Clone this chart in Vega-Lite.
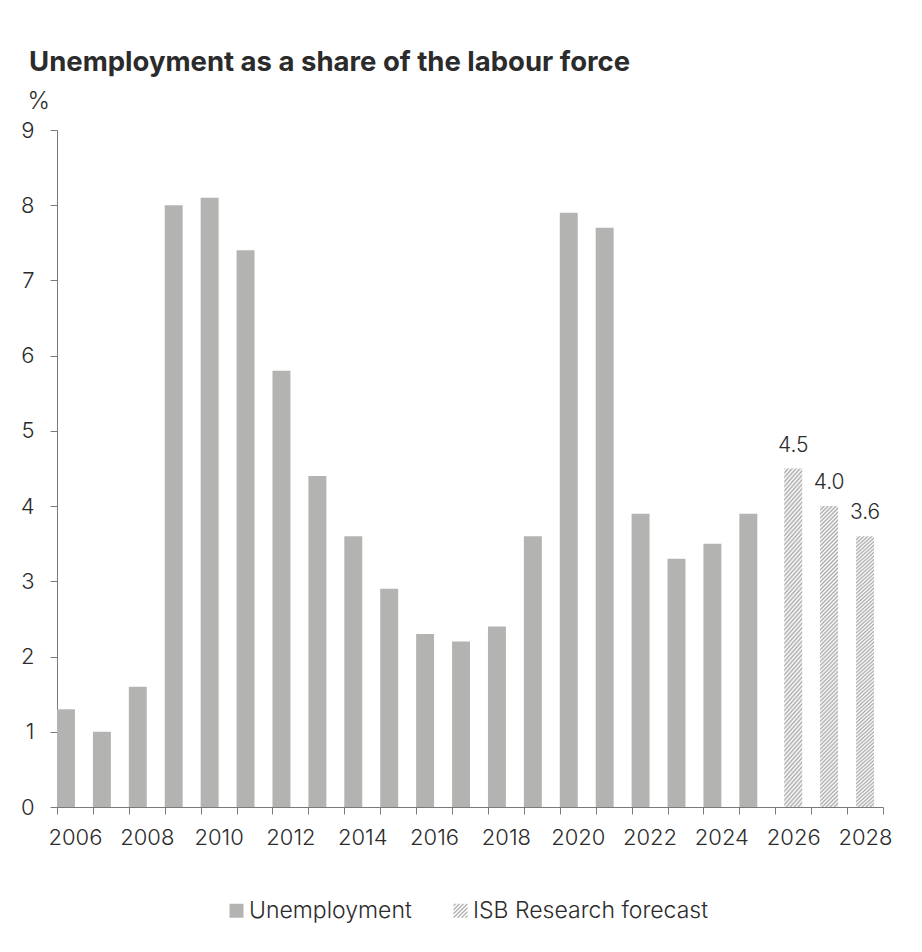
{
  "$schema": "https://vega.github.io/schema/vega-lite/v6.json",
  "width": 826,
  "height": 677,
  "autosize": {"type": "none"},
  "padding": {"left": 57, "top": 130, "right": 39, "bottom": 145},
  "background": "#ffffff",
  "config": {
    "font": "Inter",
    "view": {"stroke": null},
    "axis": {"labelColor": "#2b2b2b", "titleColor": "#2b2b2b", "domainColor": "#7a7a7a", "tickColor": "#7a7a7a", "labelFontSize": 22, "labelFontWeight": 300, "grid": false}
  },
  "title": {
    "text": "Unemployment as a share of the labour force",
    "anchor": "start",
    "frame": "group",
    "dx": -28,
    "fontSize": 27.5,
    "fontWeight": "bold",
    "color": "#2b2b2b",
    "baseline": "alphabetic",
    "offset": -9
  },
  "data": {
    "values": [
      {"year": 2006, "value": 1.3, "series": "Unemployment"},
      {"year": 2007, "value": 1.0, "series": "Unemployment"},
      {"year": 2008, "value": 1.6, "series": "Unemployment"},
      {"year": 2009, "value": 8.0, "series": "Unemployment"},
      {"year": 2010, "value": 8.1, "series": "Unemployment"},
      {"year": 2011, "value": 7.4, "series": "Unemployment"},
      {"year": 2012, "value": 5.8, "series": "Unemployment"},
      {"year": 2013, "value": 4.4, "series": "Unemployment"},
      {"year": 2014, "value": 3.6, "series": "Unemployment"},
      {"year": 2015, "value": 2.9, "series": "Unemployment"},
      {"year": 2016, "value": 2.3, "series": "Unemployment"},
      {"year": 2017, "value": 2.2, "series": "Unemployment"},
      {"year": 2018, "value": 2.4, "series": "Unemployment"},
      {"year": 2019, "value": 3.6, "series": "Unemployment"},
      {"year": 2020, "value": 7.9, "series": "Unemployment"},
      {"year": 2021, "value": 7.7, "series": "Unemployment"},
      {"year": 2022, "value": 3.9, "series": "Unemployment"},
      {"year": 2023, "value": 3.3, "series": "Unemployment"},
      {"year": 2024, "value": 3.5, "series": "Unemployment"},
      {"year": 2025, "value": 3.9, "series": "Unemployment"},
      {"year": 2026, "value": 4.5, "series": "ISB Research forecast"},
      {"year": 2027, "value": 4.0, "series": "ISB Research forecast"},
      {"year": 2028, "value": 3.6, "series": "ISB Research forecast"}
    ]
  },
  "encoding": {
    "x": {
      "field": "year",
      "type": "ordinal",
      "scale": {"type": "band", "paddingInner": 0, "paddingOuter": 0},
      "axis": {
        "title": null,
        "labelAngle": 0,
        "tickBand": "extent",
        "tickSize": 7,
        "labelPadding": 13,
        "labelOverlap": false,
        "labelExpr": "datum.value % 2 == 0 ? datum.label : ''"
      }
    },
    "y": {
      "field": "value",
      "type": "quantitative",
      "scale": {"domain": [0, 9], "nice": false},
      "axis": {
        "values": [0, 1, 2, 3, 4, 5, 6, 7, 8, 9],
        "tickSize": 7,
        "labelPadding": 16,
        "title": "%",
        "titleAngle": 0,
        "titleAlign": "left",
        "titleBaseline": "alphabetic",
        "titleX": -30,
        "titleY": -22,
        "titleFontSize": 24,
        "titleFontWeight": 300
      }
    }
  },
  "layer": [
    {
      "transform": [{"filter": "datum.series === 'Unemployment'"}],
      "mark": {"type": "bar"},
      "encoding": {
        "xOffset": {
          "field": "series",
          "type": "nominal",
          "scale": {"domain": ["Unemployment", "ISB Research forecast"], "paddingInner": 0, "paddingOuter": 0}
        },
        "color": {
          "field": "series",
          "type": "nominal",
          "scale": {"domain": ["Unemployment", "ISB Research forecast"], "range": ["#b3b4b2", "#b3b4b2"]},
          "legend": {
            "title": null,
            "orient": "none",
            "legendX": 168,
            "legendY": 769,
            "padding": 0,
            "direction": "horizontal",
            "columnPadding": 37,
            "labelOffset": 1,
            "labelLimit": 500,
            "symbolType": "square",
            "symbolSize": 196,
            "symbolStrokeWidth": 0,
            "labelFontSize": 23,
            "labelFontWeight": 300,
            "labelColor": "#2b2b2b",
            "encode": {
              "symbols": {
                "update": {
                  "shape": {"signal": "datum.value === 'ISB Research forecast' ? 'M-1,-0.857L-0.857,-1L-0.571,-1L-1,-0.571ZM-1,-0.286L-0.286,-1L0,-1L-1,0ZM-1,0.286L0.286,-1L0.571,-1L-1,0.571ZM-1,0.857L0.857,-1L1,-1L1,-0.857L-0.857,1L-1,1ZM-0.571,1L1,-0.571L1,-0.286L-0.286,1ZM0,1L1,0L1,0.286L0.286,1ZM0.571,1L1,0.571L1,0.857L0.857,1Z' : 'square'"}
                }
              }
            }
          }
        }
      }
    },
    {
      "transform": [{"filter": "datum.series === 'ISB Research forecast'"}],
      "mark": {
        "type": "bar",
        "width": {"band": 0.5},
        "fill": {
          "gradient": "linear", "x1": 0, "y1": 0, "x2": 0.0632, "y2": 1.056,
          "stops": [
            {"offset": 0, "color": "#aaaaaa"}, {"offset": 0.00625, "color": "#ffffff"},
            {"offset": 0.0125, "color": "#aaaaaa"}, {"offset": 0.01875, "color": "#ffffff"},
            {"offset": 0.025, "color": "#aaaaaa"}, {"offset": 0.03125, "color": "#ffffff"},
            {"offset": 0.0375, "color": "#aaaaaa"}, {"offset": 0.04375, "color": "#ffffff"},
            {"offset": 0.05, "color": "#aaaaaa"}, {"offset": 0.05625, "color": "#ffffff"},
            {"offset": 0.0625, "color": "#aaaaaa"}, {"offset": 0.06875, "color": "#ffffff"},
            {"offset": 0.075, "color": "#aaaaaa"}, {"offset": 0.08125, "color": "#ffffff"},
            {"offset": 0.0875, "color": "#aaaaaa"}, {"offset": 0.09375, "color": "#ffffff"},
            {"offset": 0.1, "color": "#aaaaaa"}, {"offset": 0.10625, "color": "#ffffff"},
            {"offset": 0.1125, "color": "#aaaaaa"}, {"offset": 0.11875, "color": "#ffffff"},
            {"offset": 0.125, "color": "#aaaaaa"}, {"offset": 0.13125, "color": "#ffffff"},
            {"offset": 0.1375, "color": "#aaaaaa"}, {"offset": 0.14375, "color": "#ffffff"},
            {"offset": 0.15, "color": "#aaaaaa"}, {"offset": 0.15625, "color": "#ffffff"},
            {"offset": 0.1625, "color": "#aaaaaa"}, {"offset": 0.16875, "color": "#ffffff"},
            {"offset": 0.175, "color": "#aaaaaa"}, {"offset": 0.18125, "color": "#ffffff"},
            {"offset": 0.1875, "color": "#aaaaaa"}, {"offset": 0.19375, "color": "#ffffff"},
            {"offset": 0.2, "color": "#aaaaaa"}, {"offset": 0.20625, "color": "#ffffff"},
            {"offset": 0.2125, "color": "#aaaaaa"}, {"offset": 0.21875, "color": "#ffffff"},
            {"offset": 0.225, "color": "#aaaaaa"}, {"offset": 0.23125, "color": "#ffffff"},
            {"offset": 0.2375, "color": "#aaaaaa"}, {"offset": 0.24375, "color": "#ffffff"},
            {"offset": 0.25, "color": "#aaaaaa"}, {"offset": 0.25625, "color": "#ffffff"},
            {"offset": 0.2625, "color": "#aaaaaa"}, {"offset": 0.26875, "color": "#ffffff"},
            {"offset": 0.275, "color": "#aaaaaa"}, {"offset": 0.28125, "color": "#ffffff"},
            {"offset": 0.2875, "color": "#aaaaaa"}, {"offset": 0.29375, "color": "#ffffff"},
            {"offset": 0.3, "color": "#aaaaaa"}, {"offset": 0.30625, "color": "#ffffff"},
            {"offset": 0.3125, "color": "#aaaaaa"}, {"offset": 0.31875, "color": "#ffffff"},
            {"offset": 0.325, "color": "#aaaaaa"}, {"offset": 0.33125, "color": "#ffffff"},
            {"offset": 0.3375, "color": "#aaaaaa"}, {"offset": 0.34375, "color": "#ffffff"},
            {"offset": 0.35, "color": "#aaaaaa"}, {"offset": 0.35625, "color": "#ffffff"},
            {"offset": 0.3625, "color": "#aaaaaa"}, {"offset": 0.36875, "color": "#ffffff"},
            {"offset": 0.375, "color": "#aaaaaa"}, {"offset": 0.38125, "color": "#ffffff"},
            {"offset": 0.3875, "color": "#aaaaaa"}, {"offset": 0.39375, "color": "#ffffff"},
            {"offset": 0.4, "color": "#aaaaaa"}, {"offset": 0.40625, "color": "#ffffff"},
            {"offset": 0.4125, "color": "#aaaaaa"}, {"offset": 0.41875, "color": "#ffffff"},
            {"offset": 0.425, "color": "#aaaaaa"}, {"offset": 0.43125, "color": "#ffffff"},
            {"offset": 0.4375, "color": "#aaaaaa"}, {"offset": 0.44375, "color": "#ffffff"},
            {"offset": 0.45, "color": "#aaaaaa"}, {"offset": 0.45625, "color": "#ffffff"},
            {"offset": 0.4625, "color": "#aaaaaa"}, {"offset": 0.46875, "color": "#ffffff"},
            {"offset": 0.475, "color": "#aaaaaa"}, {"offset": 0.48125, "color": "#ffffff"},
            {"offset": 0.4875, "color": "#aaaaaa"}, {"offset": 0.49375, "color": "#ffffff"},
            {"offset": 0.5, "color": "#aaaaaa"}, {"offset": 0.50625, "color": "#ffffff"},
            {"offset": 0.5125, "color": "#aaaaaa"}, {"offset": 0.51875, "color": "#ffffff"},
            {"offset": 0.525, "color": "#aaaaaa"}, {"offset": 0.53125, "color": "#ffffff"},
            {"offset": 0.5375, "color": "#aaaaaa"}, {"offset": 0.54375, "color": "#ffffff"},
            {"offset": 0.55, "color": "#aaaaaa"}, {"offset": 0.55625, "color": "#ffffff"},
            {"offset": 0.5625, "color": "#aaaaaa"}, {"offset": 0.56875, "color": "#ffffff"},
            {"offset": 0.575, "color": "#aaaaaa"}, {"offset": 0.58125, "color": "#ffffff"},
            {"offset": 0.5875, "color": "#aaaaaa"}, {"offset": 0.59375, "color": "#ffffff"},
            {"offset": 0.6, "color": "#aaaaaa"}, {"offset": 0.60625, "color": "#ffffff"},
            {"offset": 0.6125, "color": "#aaaaaa"}, {"offset": 0.61875, "color": "#ffffff"},
            {"offset": 0.625, "color": "#aaaaaa"}, {"offset": 0.63125, "color": "#ffffff"},
            {"offset": 0.6375, "color": "#aaaaaa"}, {"offset": 0.64375, "color": "#ffffff"},
            {"offset": 0.65, "color": "#aaaaaa"}, {"offset": 0.65625, "color": "#ffffff"},
            {"offset": 0.6625, "color": "#aaaaaa"}, {"offset": 0.66875, "color": "#ffffff"},
            {"offset": 0.675, "color": "#aaaaaa"}, {"offset": 0.68125, "color": "#ffffff"},
            {"offset": 0.6875, "color": "#aaaaaa"}, {"offset": 0.69375, "color": "#ffffff"},
            {"offset": 0.7, "color": "#aaaaaa"}, {"offset": 0.70625, "color": "#ffffff"},
            {"offset": 0.7125, "color": "#aaaaaa"}, {"offset": 0.71875, "color": "#ffffff"},
            {"offset": 0.725, "color": "#aaaaaa"}, {"offset": 0.73125, "color": "#ffffff"},
            {"offset": 0.7375, "color": "#aaaaaa"}, {"offset": 0.74375, "color": "#ffffff"},
            {"offset": 0.75, "color": "#aaaaaa"}, {"offset": 0.75625, "color": "#ffffff"},
            {"offset": 0.7625, "color": "#aaaaaa"}, {"offset": 0.76875, "color": "#ffffff"},
            {"offset": 0.775, "color": "#aaaaaa"}, {"offset": 0.78125, "color": "#ffffff"},
            {"offset": 0.7875, "color": "#aaaaaa"}, {"offset": 0.79375, "color": "#ffffff"},
            {"offset": 0.8, "color": "#aaaaaa"}, {"offset": 0.80625, "color": "#ffffff"},
            {"offset": 0.8125, "color": "#aaaaaa"}, {"offset": 0.81875, "color": "#ffffff"},
            {"offset": 0.825, "color": "#aaaaaa"}, {"offset": 0.83125, "color": "#ffffff"},
            {"offset": 0.8375, "color": "#aaaaaa"}, {"offset": 0.84375, "color": "#ffffff"},
            {"offset": 0.85, "color": "#aaaaaa"}, {"offset": 0.85625, "color": "#ffffff"},
            {"offset": 0.8625, "color": "#aaaaaa"}, {"offset": 0.86875, "color": "#ffffff"},
            {"offset": 0.875, "color": "#aaaaaa"}, {"offset": 0.88125, "color": "#ffffff"},
            {"offset": 0.8875, "color": "#aaaaaa"}, {"offset": 0.89375, "color": "#ffffff"},
            {"offset": 0.9, "color": "#aaaaaa"}, {"offset": 0.90625, "color": "#ffffff"},
            {"offset": 0.9125, "color": "#aaaaaa"}, {"offset": 0.91875, "color": "#ffffff"},
            {"offset": 0.925, "color": "#aaaaaa"}, {"offset": 0.93125, "color": "#ffffff"},
            {"offset": 0.9375, "color": "#aaaaaa"}, {"offset": 0.94375, "color": "#ffffff"},
            {"offset": 0.95, "color": "#aaaaaa"}, {"offset": 0.95625, "color": "#ffffff"},
            {"offset": 0.9625, "color": "#aaaaaa"}, {"offset": 0.96875, "color": "#ffffff"},
            {"offset": 0.975, "color": "#aaaaaa"}, {"offset": 0.98125, "color": "#ffffff"},
            {"offset": 0.9875, "color": "#aaaaaa"}, {"offset": 0.99375, "color": "#ffffff"},
            {"offset": 1, "color": "#aaaaaa"}
          ]
        }
      }
    },
    {
      "transform": [{"filter": "datum.series === 'ISB Research forecast'"}],
      "mark": {"type": "text", "baseline": "alphabetic", "dy": -17, "fontSize": 21, "fontWeight": 300, "color": "#2b2b2b"},
      "encoding": {
        "text": {"field": "value", "type": "quantitative", "format": ".1f"}
      }
    }
  ]
}
